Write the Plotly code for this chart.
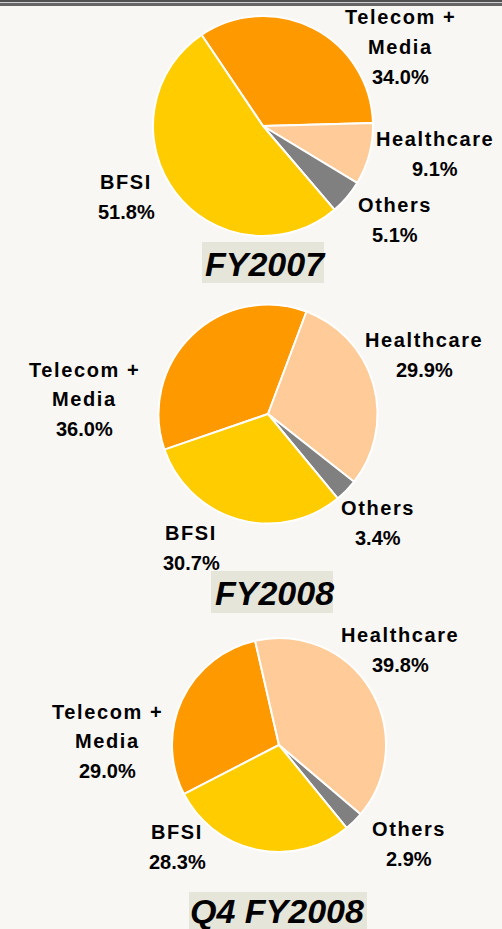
import plotly.graph_objects as go

# ── data ─────────────────────────────────────────────
SEGMENTS = ["Telecom + Media", "Healthcare", "Others", "BFSI"]
SEGMENT_LINES = [["Telecom +", "Media"], ["Healthcare"], ["Others"], ["BFSI"]]
PERIODS = ["FY2007", "FY2008", "Q4 FY2008"]
SHARE_FY2007 = [34.0, 9.1, 5.1, 51.8]
SHARE_FY2008 = [36.0, 29.9, 3.4, 30.7]
SHARE_Q4_FY2008 = [29.0, 39.8, 2.9, 28.3]
SHARES = [SHARE_FY2007, SHARE_FY2008, SHARE_Q4_FY2008]

# ── style / layout ──────────────────────────────────
W, H = 502, 929
COLORS = {"Telecom + Media": "#ff9900", "Healthcare": "#ffcc99",
          "Others": "#808080", "BFSI": "#ffcc00"}
BG = "#f9f7f4"
TITLE_BG = "#e5e5d9"
FONT = "Liberation Sans, Arial, sans-serif"

# pie centre (px), radius (px), rotation of first slice
PIE_GEOM = [((263, 126), 110, -34.0),
            ((268, 414), 109.5, -109.0),
            ((279, 745), 107, -117.3)]
# label centres per pie, in SEGMENTS order (px)
LABEL_POS = [
    [(400, 47), (435, 154), (395, 220), (126, 197)],
    [(84, 399), (424, 355), (378, 523), (191, 548)],
    [(107, 741), (400, 650), (409, 844), (177, 847)],
]
# title text centre and box (x0, y0, x1, y1) in px
TITLE_POS = [(265, 264), (274, 593), (277, 911)]
TITLE_BOX = [(202, 242, 324, 283), (211, 571, 333, 613), (189, 892, 367, 935)]
LINE_STEP = 29.5


def px(x, y):
    return x / W, 1 - y / H


fig = go.Figure()

for (c, r, rot), vals in zip(PIE_GEOM, SHARES):
    x0, y0 = px(c[0] - r, c[1] + r)
    x1, y1 = px(c[0] + r, c[1] - r)
    fig.add_trace(go.Pie(
        labels=SEGMENTS, values=vals,
        sort=False, direction="clockwise", rotation=rot,
        marker=dict(colors=[COLORS[s] for s in SEGMENTS],
                    line=dict(color="white", width=2)),
        textinfo="none", hoverinfo="label+percent",
        domain=dict(x=[x0, x1], y=[y0, y1]),
        showlegend=False,
    ))

annotations = []
for pos_list, vals in zip(LABEL_POS, SHARES):
    for (cx, cy), lines, v in zip(pos_list, SEGMENT_LINES, vals):
        texts = [f'<span style="letter-spacing:1.6px">{t}</span>' for t in lines]
        texts.append(f"{v:.1f}%")
        n = len(texts)
        for i, t in enumerate(texts):
            ax, ay = px(cx, cy + (i - (n - 1) / 2) * LINE_STEP)
            annotations.append(dict(
                x=ax, y=ay, xref="paper", yref="paper", text=f"<b>{t}</b>",
                showarrow=False, xanchor="center", yanchor="middle",
                font=dict(family=FONT, size=20, color="#000000"),
            ))

shapes = []
for name, (tx, ty), (bx0, by0, bx1, by1) in zip(PERIODS, TITLE_POS, TITLE_BOX):
    sx0, sy0 = px(bx0, by1)
    sx1, sy1 = px(bx1, by0)
    shapes.append(dict(type="rect", xref="paper", yref="paper",
                       x0=sx0, x1=sx1, y0=sy0, y1=sy1,
                       fillcolor=TITLE_BG, line=dict(width=0), layer="below"))
    ax, ay = px(tx, ty)
    annotations.append(dict(
        x=ax, y=ay, xref="paper", yref="paper", text=f"<b><i>{name}</i></b>",
        showarrow=False, xanchor="center", yanchor="middle",
        font=dict(family=FONT, size=34, color="#000000"),
    ))

# top rule
for y0, y1, col in [(0, 2, "#505050"), (2, 3, "#cfcfcf"), (3, 6, "#666666")]:
    a0, b0 = px(0, y1)
    a1, b1 = px(W, y0)
    shapes.append(dict(type="rect", xref="paper", yref="paper",
                       x0=a0, x1=a1, y0=b0, y1=b1,
                       fillcolor=col, line=dict(width=0)))

fig.update_layout(
    width=W, height=H,
    margin=dict(l=0, r=0, t=0, b=0),
    paper_bgcolor=BG, plot_bgcolor=BG,
    annotations=annotations, shapes=shapes,
)

# page body has an 8px default margin; drop it so the figure fills the window
fig.write_html("out.html",
               config=dict(displayModeBar=False),
               post_script="document.body.style.margin='0';"
                           "document.body.style.overflow='hidden';")
